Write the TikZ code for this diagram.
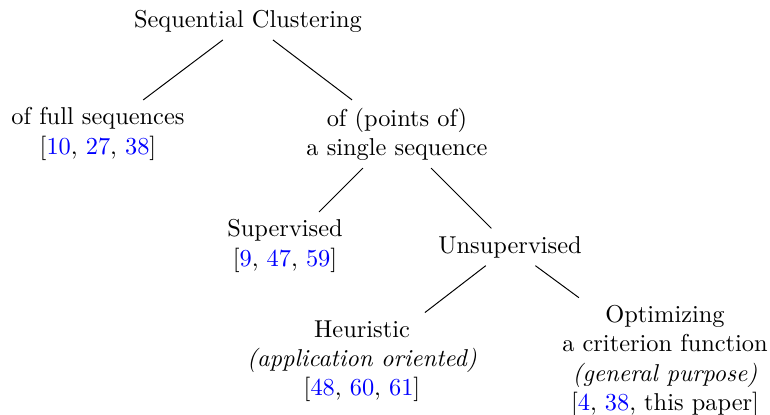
\documentclass[tikz,border=0pt]{standalone}
\usepackage{xcolor}
\newcommand\bl[1]{\textcolor{blue}{#1}}
\begin{document}
\begin{tikzpicture}[x=0.41pt,y=-0.41pt,
  tn/.style={align=center, inner sep=3pt},
  edge/.style={draw=black, line width=0.4pt}]
\useasboundingbox (0,0) rectangle (770,414);
\node[tn] (root) at (248,21) {Sequential Clustering};
\node[tn] (full) at (98,134) {of full sequences\\{[}\bl{10}, \bl{27}, \bl{38}{]}};
\node[tn] (single) at (397,134) {of (points of)\\a single sequence};
\node[tn] (sup) at (285,246) {Supervised\\{[}\bl{9}, \bl{47}, \bl{59}{]}};
\node[tn] (unsup) at (510,247) {Unsupervised};
\node[tn] (heur) at (362,361) {Heuristic\\\textit{(application oriented)}\\{[}\bl{48}, \bl{60}, \bl{61}{]}};
\node[tn] (opt) at (665,361) {Optimizing\\a criterion function\\\textit{(general purpose)}\\{[}\bl{4}, \bl{38}, this paper{]}};
\draw[edge] (root) -- (full);
\draw[edge] (root) -- (single);
\draw[edge] (single) -- (sup);
\draw[edge] (single) -- (unsup);
\draw[edge] (unsup) -- (heur);
\draw[edge] (unsup) -- (opt);
\end{tikzpicture}
\end{document}
